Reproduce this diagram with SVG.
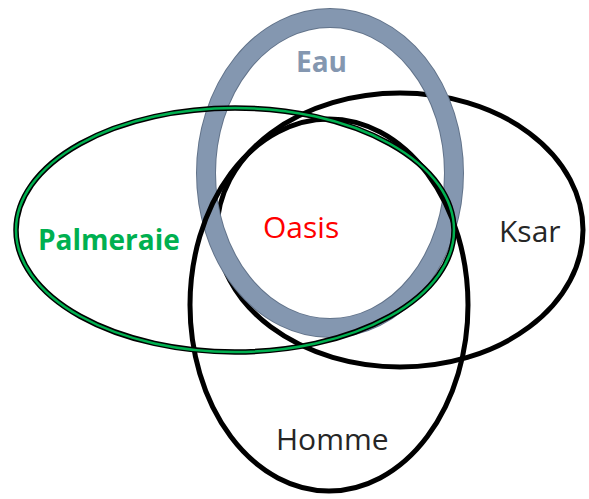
<svg xmlns="http://www.w3.org/2000/svg" width="589" height="499" viewBox="0 0 589 499">
<style>
.blk{fill:none;stroke:#000;stroke-width:5}
.lbl{font-family:"Open Sans","Liberation Sans",sans-serif;font-size:30px}
.bold{font-family:"Open Sans","Liberation Sans",sans-serif;font-size:28px;font-weight:bold}
</style>
<rect width="589" height="499" fill="#fff"/>
<g id="ksar">
<ellipse class="blk" cx="400" cy="230" rx="183" ry="137"/>
<text class="lbl" x="499" y="242" fill="#262626">Ksar</text>
</g>
<g id="eau">
<ellipse cx="330" cy="173" rx="124" ry="155" fill="none" stroke="#62738a" stroke-width="20"/>
<ellipse cx="330" cy="173" rx="124" ry="155" fill="none" stroke="#8497b0" stroke-width="18"/>
<text class="bold" x="296" y="72" fill="#8497b0">Eau</text>
</g>
<g id="homme">
<ellipse class="blk" cx="329" cy="305" rx="139" ry="186"/>
<text class="lbl" x="276" y="450" fill="#262626">Homme</text>
</g>
<g id="palmeraie">
<ellipse cx="235" cy="230" rx="219" ry="122" fill="none" stroke="#000" stroke-width="5.5"/>
<ellipse cx="235" cy="230" rx="219" ry="122" fill="none" stroke="#00b050" stroke-width="2.5"/>
<text class="bold" x="38" y="250" fill="#00b050">Palmeraie</text>
</g>
<g id="oasis">
<text class="lbl" x="263" y="238" fill="#ff0000">Oasis</text>
</g>
</svg>
